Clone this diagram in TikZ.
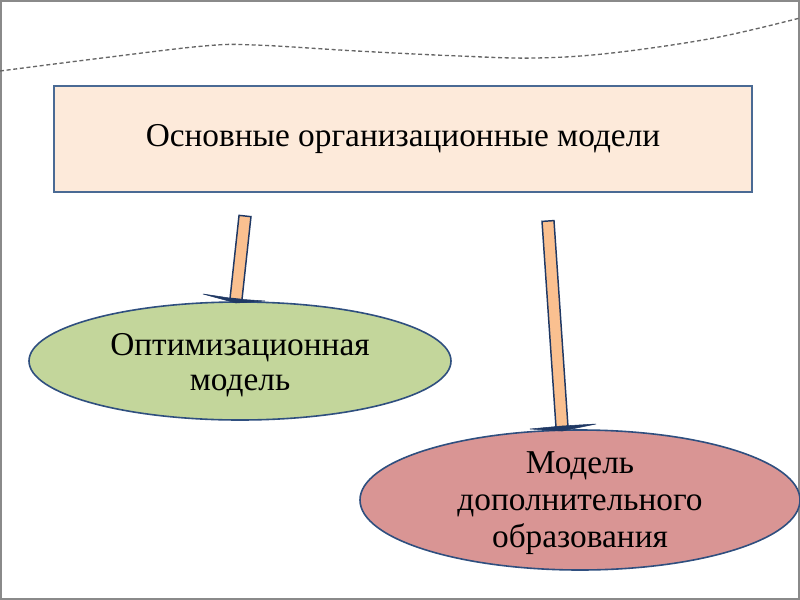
\documentclass[tikz,border=0pt]{standalone}
\usepackage{fontspec}
\setmainfont{Liberation Serif}
\usetikzlibrary{shapes.geometric,calc}
\definecolor{boxfill}{HTML}{FDEADA}
\definecolor{boxline}{HTML}{4A6A94}
\definecolor{greenfill}{HTML}{C3D69B}
\definecolor{redfill}{HTML}{D99594}
\definecolor{navyline}{HTML}{2F4F7F}
\definecolor{barfill}{HTML}{FAC090}
\definecolor{barline}{HTML}{1F3864}
\definecolor{framegray}{HTML}{8A8A8A}
\tikzset{
  txt/.style={font=\fontsize{25}{30}\selectfont, align=center, text=black},
  topbox/.style={draw=boxline, line width=1.5pt, fill=boxfill, inner sep=0pt, txt},
  oval/.style={ellipse, draw=navyline, line width=1.2pt, inner sep=0pt},
  barstyle/.style={draw=barline, line width=1.1pt, fill=barfill, line join=miter},
  headstyle/.style={fill=barline, draw=barline, line width=0.4pt}
}
\begin{document}
\begin{tikzpicture}[x=0.75pt,y=-0.75pt]
\useasboundingbox (0,0) rectangle (800,600);
\fill[white] (0,0) rectangle (800,600);
\draw[framegray, line width=1.5pt] (1,1) rectangle (799,599);
% decorative dashed curve
\draw[gray!80!black, line width=1pt, dash pattern=on 3pt off 2pt] plot[smooth, tension=0.6] coordinates {(0,71) (102,58) (204,46) (255,45) (357,51) (459,56) (536,58) (612,53) (714,38) (800,18)};
% nodes
\node[topbox, minimum width=523.5pt, minimum height=79.5pt] (main) at (403,139) {Основные организационные модели};
\node[oval, minimum width=316.5pt, minimum height=88.5pt, fill=greenfill,
  label={[txt, font=\fontsize{25}{26.25}\selectfont, yshift=-3.5pt]center:Оптимизационная\\ модель}] (opt) at (240,361) {};
\node[oval, minimum width=330pt, minimum height=105pt, fill=redfill,
  label={[txt, font=\fontsize{25}{27.75}\selectfont, yshift=-2.5pt]center:Модель\\ дополнительного\\ образования}] (dop) at (580,500) {};
% arrow 1
\coordinate (a1t) at (245,216);
\coordinate (a1b) at (236,299);
\draw[barstyle] ($(a1t)!4.5pt!90:(a1b)$) -- ($(a1t)!4.5pt!-90:(a1b)$) -- ($(a1b)!4.5pt!90:(a1t)$) -- ($(a1b)!4.5pt!-90:(a1t)$) -- cycle;
\fill[headstyle] (203,294) -- (236,299) -- (265,301) -- (236,303) -- cycle;
% arrow 2
\coordinate (a2t) at (548,221);
\coordinate (a2b) at (562,427);
\draw[barstyle] ($(a2t)!4.5pt!90:(a2b)$) -- ($(a2t)!4.5pt!-90:(a2b)$) -- ($(a2b)!4.5pt!90:(a2t)$) -- ($(a2b)!4.5pt!-90:(a2t)$) -- cycle;
\fill[headstyle] (530,429) -- (562,426) -- (596,424) -- (562,431) -- cycle;
\end{tikzpicture}
\end{document}
